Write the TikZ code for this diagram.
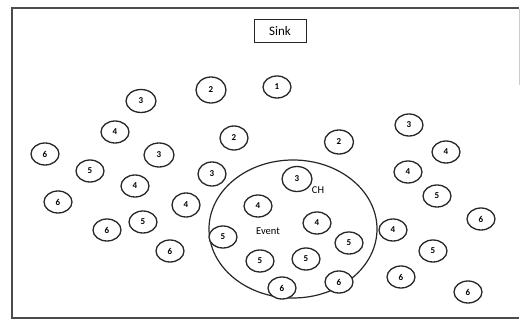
\documentclass[tikz,border=0pt]{standalone}
\usepackage{fontspec}
\setmainfont{Carlito}
\usetikzlibrary{shapes.geometric}
\begin{document}
\begin{tikzpicture}[x=1pt,y=-1pt,
  nd/.style={ellipse,draw=black!85,fill=white,line width=1.3pt,minimum width=28pt,minimum height=22pt,inner sep=0pt,font=\fontsize{9}{9}\selectfont\bfseries},
  lbl/.style={inner sep=0pt,font=\fontsize{10.5}{10.5}\selectfont},
  frameline/.style={line width=1.6pt,black!70}]
\useasboundingbox (0,0) rectangle (520,320);
% frame
\draw[frameline] (519,8) -- (12,8) -- (12,318) -- (519,318);
\draw[black!20,line width=1pt] (519,9) -- (519,85);
% sink
\node[draw=black!85,line width=1pt,minimum width=52pt,minimum height=23pt,inner sep=0pt,font=\fontsize{13}{13}\selectfont] (sink) at (280,31.5) {Sink};
% event region
\node[ellipse,draw=black!85,line width=1.2pt,minimum width=168pt,minimum height=138pt] (ev) at (293,229) {};
\node[lbl] (evl) at (268,231) {Event};
\node[lbl] (ch) at (318,190) {CH};
% nodes
\node[nd] (a1) at (277,87) {1};
\node[nd,minimum width=30pt,minimum height=26pt] (a2) at (211,90) {2};
\node[nd,minimum width=30pt,minimum height=23pt] (a3) at (141,101) {3};
\node[nd] (a4) at (115,132) {4};
\node[nd,minimum height=24pt] (a5) at (234,138) {2};
\node[nd,minimum width=29pt,minimum height=24pt] (a6) at (339,142) {2};
\node[nd] (a7) at (409,125) {3};
\node[nd] (a8) at (446,152) {4};
\node[nd] (a9) at (45,154) {6};
\node[nd,minimum width=30pt,minimum height=24pt] (a10) at (159,155) {3};
\node[nd] (a11) at (90,171) {5};
\node[nd,minimum height=24pt] (a12) at (212,174) {3};
\node[nd] (a13) at (135,186) {4};
\node[nd] (a14) at (408,172) {4};
\node[nd] (a15) at (58,202) {6};
\node[nd,minimum height=24pt] (a16) at (186,205) {4};
\node[nd] (a17) at (437,196) {5};
\node[nd] (a18) at (481,219) {6};
\node[nd] (a19) at (107,230) {6};
\node[nd] (a20) at (143,222) {5};
\node[nd] (a21) at (170,251) {6};
\node[nd] (a22) at (223,237) {5};
\node[nd] (a23) at (393,230) {4};
\node[nd] (a24) at (433,251) {5};
\node[nd] (a25) at (401,277) {6};
\node[nd] (a26) at (468,292) {6};
% inside region
\node[nd,minimum width=30pt,minimum height=25pt] (b1) at (297,179) {3};
\node[nd] (b2) at (258,206) {4};
\node[nd] (b3) at (317,223) {4};
\node[nd] (b4) at (349,243) {5};
\node[nd] (b5) at (260,261) {5};
\node[nd] (b6) at (306,259) {5};
\node[nd] (b7) at (282,288) {6};
\node[nd] (b8) at (339,282) {6};
\end{tikzpicture}
\end{document}
